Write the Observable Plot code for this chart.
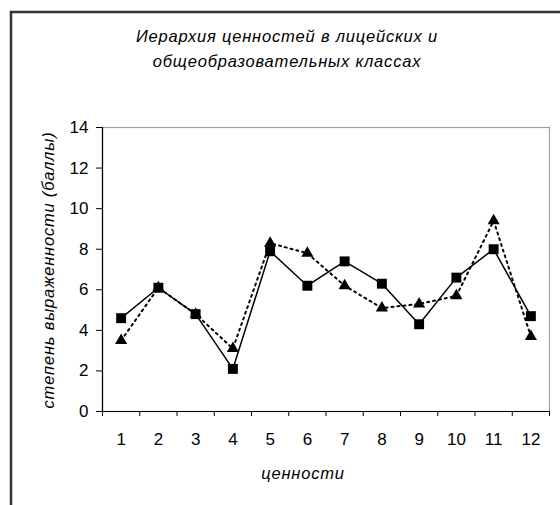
<!DOCTYPE html>
<html>
<head>
<meta charset="utf-8">
<script src="https://cdn.jsdelivr.net/npm/d3@7"></script>
<script src="https://cdn.jsdelivr.net/npm/@observablehq/plot@0.6"></script>
<style>
  html, body { margin: 0; padding: 0; background: #fff; }
  #chart { width: 560px; height: 505px; }
  #chart svg [aria-label$="tick label"] { font-size: 17px; }
</style>
</head>
<body>
<div id="chart"></div>
<script>
// ---- data ----
const categories = [1, 2, 3, 4, 5, 6, 7, 8, 9, 10, 11, 12];
const seriesSquares = [4.6, 6.1, 4.8, 2.1, 7.9, 6.2, 7.4, 6.3, 4.3, 6.6, 8.0, 4.7];
const seriesTriangles = [3.5, 6.1, 4.8, 3.1, 8.3, 7.8, 6.2, 5.1, 5.3, 5.7, 9.4, 3.7];
const yTicks = [0, 2, 4, 6, 8, 10, 12, 14];
const titleLines = ["Иерархия ценностей в лицейских и", "общеобразовательных классах"];
const yLabel = "степень выраженности (баллы)";
const xLabel = "ценности";

const squares = categories.map((c, i) => ({x: c, y: seriesSquares[i]}));
const triangles = categories.map((c, i) => ({x: c, y: seriesTriangles[i]}));
const bounds = [categories[0] - 0.5, ...categories.map(c => c + 0.5)];

const plot = Plot.plot({
  width: 560,
  height: 505,
  marginLeft: 102,
  marginRight: 11,
  marginTop: 127,
  marginBottom: 94,
  style: {fontFamily: "'Liberation Sans', Arial, sans-serif", fontSize: "17px", color: "#000", background: "#fff"},
  x: {type: "linear", domain: [bounds[0], bounds[bounds.length - 1]]},
  y: {domain: [yTicks[0], yTicks[yTicks.length - 1]]},
  marks: [
    Plot.frame({stroke: "#a0a0a0", strokeWidth: 1.2}),
    Plot.ruleX([bounds[0]], {stroke: "#000", strokeWidth: 1.2}),
    Plot.ruleY([yTicks[0]], {stroke: "#000", strokeWidth: 1.2}),
    Plot.axisY({ticks: yTicks, tickSize: 6, tickPadding: 8, label: null}),
    Plot.axisX({ticks: bounds, tickSize: 5, tickFormat: () => "", label: null}),
    Plot.axisX({ticks: categories, tickSize: 0, tickPadding: 21, label: null}),
    Plot.line(triangles, {x: "x", y: "y", stroke: "#000", strokeWidth: 2, strokeDasharray: "2,4"}),
    Plot.line(squares, {x: "x", y: "y", stroke: "#000", strokeWidth: 1.5}),
    Plot.dot(triangles, {x: "x", y: "y", symbol: "triangle", r: 4.5, fill: "#000", stroke: "none"}),
    Plot.dot(squares, {x: "x", y: "y", symbol: "square", r: 5.6, fill: "#000", stroke: "none"})
  ]
});

document.getElementById("chart").appendChild(plot);

const svg = d3.select(plot);
// outer chart border (left and top visible)
svg.append("path")
  .attr("d", "M11,505 L11,12 L560,12")
  .attr("fill", "none")
  .attr("stroke", "#333")
  .attr("stroke-width", 2.5);

const font = "'Liberation Sans', Arial, sans-serif";
svg.append("g").selectAll("text").data(titleLines).join("text")
  .attr("x", 287)
  .attr("y", (d, i) => 42 + i * 25)
  .attr("text-anchor", "middle")
  .attr("font-family", font)
  .attr("font-size", 16.5)
  .attr("letter-spacing", 0.8)
  .attr("font-style", "italic")
  .text(d => d);

svg.append("text")
  .attr("transform", "translate(54,270) rotate(-90)")
  .attr("text-anchor", "middle")
  .attr("font-family", font)
  .attr("font-size", 16.5)
  .attr("letter-spacing", 0.8)
  .attr("font-style", "italic")
  .text(yLabel);

svg.append("text")
  .attr("x", 303)
  .attr("y", 479)
  .attr("text-anchor", "middle")
  .attr("font-family", font)
  .attr("font-size", 16.5)
  .attr("letter-spacing", 0.8)
  .attr("font-style", "italic")
  .text(xLabel);
</script>
</body>
</html>
